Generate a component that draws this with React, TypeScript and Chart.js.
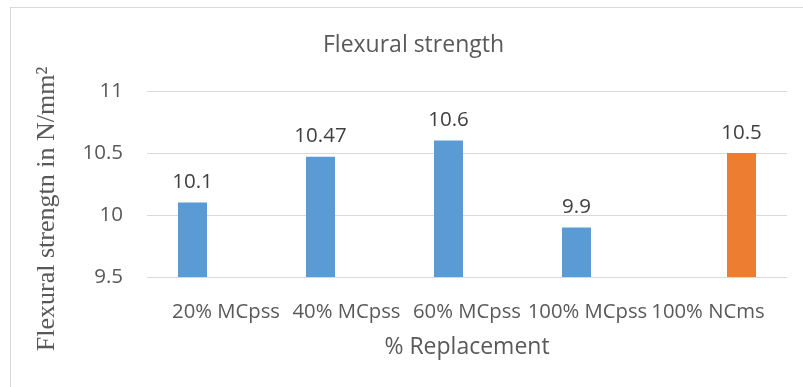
import React, { useEffect, useRef } from "react";
import { Chart, registerables } from "chart.js";

Chart.register(...registerables);

const categories = ["20% MCpss", "40% MCpss", "60% MCpss", "100% MCpss", "100% NCms"];
const mcpssValues: (number | null)[] = [10.1, 10.47, 10.6, 9.9, null];
const ncmsValues: (number | null)[] = [null, null, null, null, 10.5];
const yMin = 9.5;
const yMax = 11;
const yStep = 0.5;
const chartTitle = "Flexural strength";
const xTitle = "% Replacement";
const yTitle = "Flexural strengtn in N/mm²";

const SANS = "'Open Sans', 'Noto Sans', sans-serif";

// label axis range chosen so category labels sit where the reference puts them
const labelAxisMin = -0.656;
const labelAxisMax = 4.656;

const barLabels = {
  id: "barLabels",
  afterDatasetsDraw(chart: any) {
    const ctx = chart.ctx;
    ctx.save();
    ctx.font = `20.5px ${SANS}`;
    ctx.fillStyle = "#404040";
    ctx.textAlign = "center";
    ctx.textBaseline = "alphabetic";
    chart.data.datasets.forEach((ds: any, i: number) => {
      const meta = chart.getDatasetMeta(i);
      meta.data.forEach((el: any, j: number) => {
        const v = ds.data[j];
        if (v == null) return;
        ctx.fillText(String(v), el.x, el.y - 14.5);
      });
    });
    ctx.restore();
  },
};

const yTitlePlugin = {
  id: "yTitlePlugin",
  afterDraw(chart: any) {
    const ctx = chart.ctx;
    const area = chart.chartArea;
    ctx.save();
    ctx.translate(area.left - 100, area.bottom - 68);
    ctx.rotate(-Math.PI / 2);
    ctx.font = `26px 'Liberation Serif', 'Times New Roman', serif`;
    ctx.fillStyle = "#595959";
    ctx.textAlign = "center";
    ctx.textBaseline = "middle";
    ctx.fillText(yTitle, 0, 0);
    ctx.restore();
  },
};

export default function App() {
  const ref = useRef<HTMLCanvasElement | null>(null);

  useEffect(() => {
    if (!ref.current) return;
    const chart = new Chart(ref.current, {
      type: "bar",
      data: {
        labels: categories,
        datasets: [
          {
            label: "MCpss",
            data: mcpssValues,
            backgroundColor: "#5B9BD5",
            categoryPercentage: 0.578,
            barPercentage: 0.784,
          },
          {
            label: "NCms",
            data: ncmsValues,
            backgroundColor: "#ED7D31",
            categoryPercentage: 0.578,
            barPercentage: 0.784,
          },
        ],
      },
      options: {
        responsive: false,
        animation: false,
        devicePixelRatio: 1,
        layout: { padding: { left: 40, right: 16, top: 0, bottom: 0 } },
        plugins: {
          legend: { display: false },
          tooltip: { enabled: false },
          title: {
            display: true,
            text: chartTitle,
            color: "#595959",
            font: { family: SANS, size: 23, weight: "normal" },
            padding: { top: 32, bottom: 31.4 },
          },
        },
        scales: {
          x: {
            display: false,
            grid: { display: false, drawTicks: false },
          },
          catAxis: {
            type: "linear",
            axis: "x",
            position: "bottom",
            bounds: "data",
            offset: false,
            min: labelAxisMin,
            max: labelAxisMax,
            afterBuildTicks: (scale: any) => {
              scale.ticks = categories.map((_, i) => ({ value: i }));
            },
            grid: { display: false, drawTicks: false, offset: false },
            border: { display: false },
            ticks: {
              color: "#595959",
              font: { family: SANS, size: 20.3 },
              padding: 23,
              autoSkip: false,
              maxRotation: 0,
              minRotation: 0,
              callback: (v: any) => categories[Math.round(Number(v))] ?? "",
            },
            title: {
              display: true,
              text: xTitle,
              color: "#595959",
              font: { family: SANS, size: 23 },
              padding: { top: 0, bottom: 26 },
            },
            afterFit: (scale: any) => {
              scale.height = 110;
            },
          },
          y: {
            min: yMin,
            max: yMax,
            grid: { color: "#D9D9D9", lineWidth: 1, drawTicks: false },
            border: { display: false },
            ticks: {
              stepSize: yStep,
              color: "#595959",
              font: { family: SANS, size: 20.5 },
              padding: 24,
              callback: (v: any) => String(v),
            },
            afterFit: (scale: any) => {
              scale.width = 107;
            },
          },
        },
      },
      plugins: [barLabels, yTitlePlugin],
    });
    return () => chart.destroy();
  }, []);

  return (
    <div style={{ position: "fixed", left: 0, top: 0, width: 803, height: 387, background: "#fff", overflow: "hidden" }}>
      <div
        style={{
          position: "absolute",
          left: 10,
          top: 7,
          width: 820,
          height: 420,
          border: "1px solid #D9D9D9",
          boxSizing: "border-box",
        }}
      />
      <canvas ref={ref} width={803} height={387} style={{ position: "absolute", left: 0, top: 0 }} />
    </div>
  );
}
